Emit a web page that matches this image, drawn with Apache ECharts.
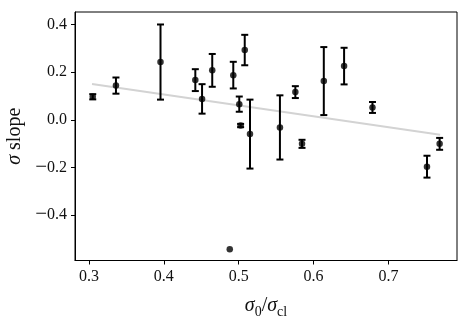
<!DOCTYPE html>
<html>
<head>
<meta charset="utf-8">
<script src="https://cdn.jsdelivr.net/npm/echarts@6/dist/echarts.min.js"></script>
<style>html,body{margin:0;padding:0;background:#fff}#c{width:470px;height:319px}</style>
</head>
<body>
<div id="c"></div>
<script>
const xVals = [0.305, 0.336, 0.3955, 0.442, 0.451, 0.4646, 0.4927, 0.508, 0.5007, 0.5025, 0.515, 0.488, 0.555, 0.5756, 0.5845, 0.6136, 0.6407, 0.6786, 0.7514, 0.7683];
const yVals = [0.097, 0.144, 0.243, 0.167, 0.088, 0.208, 0.188, 0.2935, 0.066, -0.024, -0.060, -0.544, -0.032, 0.1166, -0.101, 0.163, 0.226, 0.052, -0.197, -0.101];
const yErr  = [0.011, 0.034, 0.158, 0.046, 0.062, 0.069, 0.056, 0.064, 0.032, 0.007, 0.145, null, 0.135, 0.025, 0.017, 0.143, 0.077, 0.023, 0.046, 0.025];
const fitX = [0.304, 0.769];
const fitY = [0.151, -0.063];
const xTicks = [0.3, 0.4, 0.5, 0.6, 0.7];
const yTicks = [-0.4, -0.2, 0.0, 0.2, 0.4];

const serif = "'Liberation Serif', 'DejaVu Serif', serif";
const chart = echarts.init(document.getElementById('c'), null, {renderer: 'canvas'});
const pts = xVals.map((x, i) => [x, yVals[i]]);
const errData = xVals.map((x, i) => [x, yVals[i], yErr[i] == null ? 0 : yErr[i]]).filter((d, i) => yErr[i] != null);
const txt = '#111';

chart.setOption({
  animation: false,
  backgroundColor: '#fff',
  grid: {left: 75, right: 13, top: 12, bottom: 58.5, show: true, borderColor: '#000', borderWidth: 1, containLabel: false, outerBoundsMode: 'none'},
  xAxis: {
    type: 'value', min: 0.2813, max: 0.7915,
    splitLine: {show: false},
    axisLine: {show: true, onZero: false, lineStyle: {color: '#000', width: 1}},
    axisTick: {show: true, inside: false, length: 4, lineStyle: {color: '#000'}, customValues: xTicks},
    axisLabel: {customValues: xTicks, margin: 8, color: txt, fontFamily: serif, fontSize: 16, formatter: v => v.toFixed(1)},
    name: '{i|σ}{s|0}{n|/}{i|σ}{s|cl}', nameLocation: 'middle', nameGap: 33,
    nameTextStyle: {rich: {
      i: {fontFamily: serif, fontStyle: 'italic', fontSize: 20, color: txt, verticalAlign: 'bottom', lineHeight: 22},
      n: {fontFamily: serif, fontSize: 20, color: txt, verticalAlign: 'bottom', lineHeight: 22},
      s: {fontFamily: serif, fontSize: 14, color: txt, verticalAlign: 'bottom', lineHeight: 16, padding: [0,0,-4,0]}
    }}
  },
  yAxis: {
    type: 'value', min: -0.5916, max: 0.4535,
    splitLine: {show: false},
    axisLine: {show: true, onZero: false, lineStyle: {color: '#000', width: 1}},
    axisTick: {show: true, inside: false, length: 4, lineStyle: {color: '#000'}, customValues: yTicks},
    axisLabel: {customValues: yTicks, margin: 8, color: txt, fontFamily: serif, fontSize: 16,
      formatter: v => (v < -1e-9 ? '{m|\u2212}' + Math.abs(v).toFixed(1) : Math.abs(v).toFixed(1)),
      rich: {m: {fontFamily: serif, fontSize: 21, color: txt}}},
    name: '{i|σ} slope', nameLocation: 'middle', nameGap: 47,
    nameTextStyle: {rich: {
      i: {fontFamily: serif, fontStyle: 'italic', fontSize: 20, color: txt}
    }, fontFamily: serif, fontSize: 20, color: txt}
  },
  series: [
    {type: 'line', data: fitX.map((x, i) => [x, fitY[i]]), symbol: 'none', lineStyle: {color: '#d3d3d3', width: 2}, z: 1, silent: true},
    {type: 'custom', z: 2, data: errData,
      renderItem: function (params, api) {
        const x = api.value(0), y = api.value(1), e = api.value(2);
        const top = api.coord([x, y + e]);
        const bot = api.coord([x, y - e]);
        const hw = 3.5;
        const st = {stroke: '#000', lineWidth: 2};
        return {type: 'group', children: [
          {type: 'line', shape: {x1: top[0], y1: top[1], x2: bot[0], y2: bot[1]}, style: st},
          {type: 'line', shape: {x1: top[0] - hw, y1: top[1], x2: top[0] + hw, y2: top[1]}, style: st},
          {type: 'line', shape: {x1: bot[0] - hw, y1: bot[1], x2: bot[0] + hw, y2: bot[1]}, style: st}
        ]};
      }
    },
    {type: 'scatter', z: 3, data: pts, symbol: 'circle', symbolSize: 6.5, itemStyle: {color: '#000'}}
  ]
});
</script>
</body>
</html>
